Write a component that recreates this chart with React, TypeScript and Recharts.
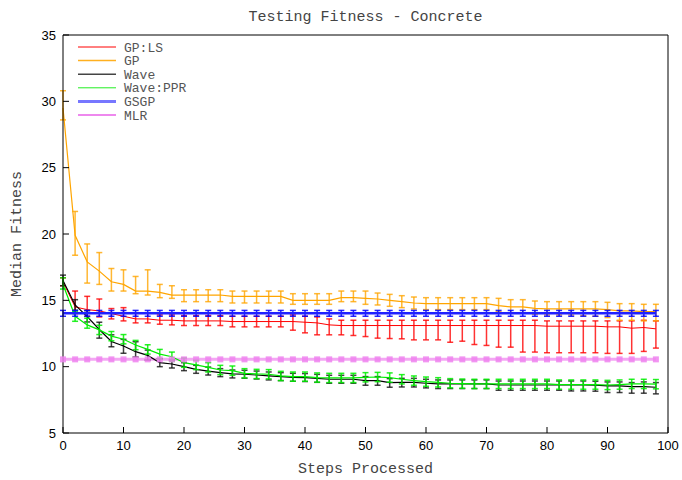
import React from 'react';
import { LineChart, Line, XAxis, YAxis, ErrorBar, Legend } from 'recharts';

const steps = [0,2,4,6,8,10,12,14,16,18,20,22,24,26,28,30,32,34,36,38,40,42,44,46,48,50,52,54,56,58,60,62,64,66,68,70,72,74,76,78,80,82,84,86,88,90,92,94,96,98];

const gpLs = [16.4,14.5,14.3,14.2,14.0,13.8,13.6,13.6,13.5,13.5,
  13.45,13.45,13.45,13.45,13.4,13.4,13.4,13.4,13.4,13.4,
  13.35,13.3,13.15,13.1,13.1,
  13.1,13.1,13.1,13.1,13.1,13.1,13.1,13.1,13.1,13.1,13.1,13.1,13.1,13.1,13.1,
  13.05,13.05,13.05,13.05,13.05,13.0,13.0,12.9,12.95,12.85];
const gpLsLo = [0.3,0.5,0.5,0.45,0.4,0.35,0.3,0.3,0.3,0.35,
  0.35,0.35,0.35,0.35,0.4,0.4,0.4,0.4,0.4,0.65,
  0.8,0.9,0.75,0.7,0.75,
  0.83,0.95,0.98,1.0,1.08,1.08,1.08,1.26,1.18,1.43,1.5,1.63,1.63,2.0,2.0,
  2.0,2.0,2.0,2.0,2.0,2.0,2.0,1.9,1.8,1.45];
const gpLsHi = [0.3,1.2,1.0,0.9,0.38,0.65,0.45,0.45,0.4,0.4,
  0.4,0.4,0.4,0.4,0.4,0.4,0.4,0.4,0.4,0.5,
  0.45,0.45,0.45,0.4,0.4,
  0.4,0.4,0.4,0.4,0.4,0.4,0.4,0.4,0.4,0.4,0.4,0.4,0.4,0.4,0.4,
  0.4,0.4,0.4,0.4,0.4,0.45,0.45,0.55,0.55,0.6];

const gp = [29.5,19.9,17.9,17.2,16.4,16.2,15.7,15.7,15.6,15.4,
  15.4,15.4,15.4,15.4,15.3,15.3,15.3,15.3,15.3,15.0,
  15.0,15.0,15.0,15.2,15.2,
  15.15,15.1,15.0,14.9,14.8,14.75,14.75,14.75,14.75,14.75,14.75,14.6,14.5,14.5,14.4,
  14.35,14.35,14.35,14.35,14.35,14.3,14.2,14.2,14.15,14.15];
const gpLo = [0.9,1.5,1.6,1.0,0.7,0.5,0.2,0.3,0.4,0.25,
  0.5,0.5,0.5,0.5,0.5,0.5,0.5,0.5,0.5,0.3,
  0.3,0.3,0.3,0.3,0.3,
  0.45,0.45,0.45,0.45,0.45,0.45,0.45,0.45,0.45,0.45,0.45,0.45,0.45,0.45,0.45,
  0.45,0.45,0.45,0.5,0.55,0.6,0.7,0.7,0.7,0.7];
const gpHi = [1.3,1.8,1.35,1.4,1.0,1.1,1.1,1.6,0.6,0.7,
  0.4,0.4,0.4,0.4,0.4,0.4,0.4,0.4,0.4,0.5,
  0.5,0.5,0.5,0.5,0.5,
  0.55,0.45,0.45,0.45,0.45,0.45,0.45,0.45,0.45,0.45,0.45,0.55,0.55,0.55,0.55,
  0.55,0.55,0.55,0.55,0.55,0.55,0.55,0.55,0.55,0.55];

const wave = [16.5,14.65,13.77,12.8,11.9,11.56,11.13,10.85,10.3,10.2,
  10.0,9.8,9.67,9.55,9.45,9.43,9.37,9.3,9.25,9.2,
  9.18,9.12,9.05,9.05,9.05,
  8.95,8.95,8.8,8.82,8.82,8.75,8.7,8.7,8.7,8.7,8.7,8.62,8.62,8.62,8.62,
  8.62,8.62,8.62,8.62,8.6,8.55,8.55,8.5,8.5,8.45];
const waveLo = [0.4,0.4,0.4,0.65,0.4,0.55,0.4,0.35,0.3,0.3,
  0.3,0.3,0.3,0.3,0.3,0.3,0.3,0.3,0.3,0.3,
  0.3,0.3,0.3,0.3,0.3,
  0.35,0.35,0.35,0.35,0.35,0.35,0.35,0.35,0.35,0.35,0.35,0.4,0.4,0.4,0.4,
  0.4,0.4,0.45,0.45,0.45,0.5,0.5,0.5,0.5,0.5];
const waveHi = [0.4,0.4,0.45,0.55,0.5,0.5,0.75,0.4,0.3,0.3,
  0.3,0.3,0.3,0.3,0.3,0.3,0.3,0.3,0.3,0.3,
  0.3,0.3,0.3,0.3,0.3,
  0.3,0.3,0.3,0.3,0.3,0.3,0.3,0.3,0.3,0.3,0.3,0.3,0.3,0.3,0.3,
  0.3,0.3,0.3,0.3,0.3,0.3,0.3,0.3,0.35,0.35];

const wavePpr = [16.2,13.8,13.15,12.77,12.3,12.07,11.63,11.3,10.95,10.75,
  10.3,10.13,9.95,9.75,9.7,9.5,9.45,9.43,9.3,9.25,
  9.25,9.18,9.15,9.15,9.15,
  9.2,9.22,9.18,9.05,8.95,8.87,8.82,8.75,8.72,8.7,8.7,8.7,8.7,8.7,8.7,
  8.7,8.65,8.65,8.65,8.65,8.62,8.65,8.7,8.7,8.68];
const wavePprLo = [0.35,0.38,0.25,0.35,0.35,0.35,0.35,0.35,0.35,0.35,
  0.35,0.35,0.35,0.35,0.35,0.35,0.35,0.35,0.35,0.35,
  0.35,0.35,0.35,0.35,0.35,
  0.35,0.35,0.35,0.35,0.35,0.35,0.35,0.35,0.35,0.35,0.35,0.35,0.35,0.35,0.35,
  0.35,0.35,0.35,0.35,0.35,0.35,0.35,0.35,0.35,0.35];
const wavePprHi = [0.5,0.38,0.5,0.35,0.35,0.35,0.35,0.35,0.35,0.35,
  0.35,0.35,0.35,0.35,0.35,0.35,0.35,0.35,0.35,0.35,
  0.35,0.35,0.35,0.35,0.35,
  0.35,0.35,0.35,0.35,0.35,0.35,0.35,0.35,0.35,0.35,0.35,0.35,0.35,0.35,0.35,
  0.35,0.35,0.35,0.35,0.35,0.35,0.35,0.35,0.35,0.35];

const gsgp = [14.02,14.02,14.02,14.02,14.02,14.02,14.02,14.02,14.02,14.02,
  14.02,14.02,14.02,14.02,14.02,14.02,14.02,14.02,14.02,14.02,
  14.02,14.02,14.02,14.02,14.02,14.02,14.02,14.02,14.02,14.02,
  14.02,14.02,14.02,14.02,14.02,14.02,14.02,14.02,14.02,14.02,
  14.02,14.02,14.02,14.02,14.02,14.02,14.02,14.02,14.02,14.02];
const gsgpErr = 0.22;

const mlr = [10.55,10.55,10.55,10.55,10.55,10.55,10.55,10.55,10.55,10.55,
  10.55,10.55,10.55,10.55,10.55,10.55,10.55,10.55,10.55,10.55,
  10.55,10.55,10.55,10.55,10.55,10.55,10.55,10.55,10.55,10.55,
  10.55,10.55,10.55,10.55,10.55,10.55,10.55,10.55,10.55,10.55,
  10.55,10.55,10.55,10.55,10.55,10.55,10.55,10.55,10.55,10.55];

const xTicks = [0,10,20,30,40,50,60,70,80,90,100];
const yTicks = [5,10,15,20,25,30,35];

const seriesNames = ['GP:LS', 'GP', 'Wave', 'Wave:PPR', 'GSGP', 'MLR'];
const legendColors = ['#ff0000', '#ffb020', '#444444', '#22ee22', '#7777ff', '#ee88ee'];
const legendWidths = [1, 1.5, 1.5, 1, 3, 2];

const data = steps.map((s, i) => ({
  step: s,
  gpls: gpLs[i], gplsErr: [gpLsLo[i], gpLsHi[i]],
  gp: gp[i], gpErr: [gpLo[i], gpHi[i]],
  wave: wave[i], waveErr: [waveLo[i], waveHi[i]],
  ppr: wavePpr[i], pprErr: [wavePprLo[i], wavePprHi[i]],
  gsgp: gsgp[i], gsgpErr: [gsgpErr, gsgpErr],
  mlr: mlr[i],
}));

const mono = '"Liberation Mono", "DejaVu Sans Mono", monospace';
const sans = '"Liberation Sans", Arial, sans-serif';

const KeyBox = () => (
  <svg width={130} height={84} style={{ display: 'block' }}>
    {seriesNames.map((n, i) => {
      const y = 7 + i * 13.6;
      return (
        <g key={n}>
          <line x1={0} x2={38} y1={y} y2={y} stroke={legendColors[i]} strokeWidth={legendWidths[i]} />
          <text x={46} y={y + 4.5} fontFamily={mono} fontSize={13} fill="#555">{n}</text>
        </g>
      );
    })}
  </svg>
);

const squareDot = (props: any) => {
  const { cx, cy, index } = props;
  if (cx == null || cy == null) return <g key={`m${index}`} />;
  return <rect key={`m${index}`} x={cx - 3} y={cy - 3} width={6} height={6} fill="#ee82ee" fillOpacity={0.85} />;
};

export default function App() {
  return (
    <div style={{ position: 'absolute', left: 0, top: 0, width: 682, height: 480, background: '#fff' }}>
      <LineChart width={682} height={480} data={data} margin={{ top: 34, right: 13, left: 0, bottom: 0 }}>
        <XAxis
          dataKey="step" type="number" domain={[0, 100]} ticks={xTicks} height={47}
          tickSize={-6} tickMargin={14} stroke="#000" tickLine={{ stroke: '#000' }}
          tick={{ fill: '#000', fontSize: 13, fontFamily: sans }}
          label={{ value: 'Steps Processed', position: 'insideBottom', offset: 7, fill: '#444', fontSize: 15, fontFamily: mono }}
        />
        <XAxis
          xAxisId="t" orientation="top" dataKey="step" type="number" domain={[0, 100]} ticks={xTicks} height={1}
          tickSize={-6} tick={false} stroke="#000"
          label={{ value: 'Testing Fitness - Concrete', position: 'top', offset: 13, fill: '#444', fontSize: 15, fontFamily: mono }}
        />
        <YAxis
          type="number" domain={[5, 35]} ticks={yTicks} width={63}
          tickSize={-6} tickMargin={13} stroke="#000" tickLine={{ stroke: '#000' }}
          tick={{ fill: '#000', fontSize: 13, fontFamily: sans }}
          label={{ value: 'Median Fitness', angle: -90, position: 'center', dx: -16, fill: '#444', fontSize: 15, fontFamily: mono }}
        />
        <YAxis
          yAxisId="r" orientation="right" type="number" domain={[5, 35]} ticks={yTicks} width={1}
          tickSize={-6} tick={false} stroke="#000"
        />
        <Legend
          content={() => <KeyBox />}
          layout="horizontal" verticalAlign="middle" align="center"
          wrapperStyle={{ left: 78, top: 40, width: 130, height: 84 }}
        />
        <Line dataKey="mlr" type="linear" stroke="#ee82ee" strokeWidth={3} strokeOpacity={0.7} dot={squareDot} isAnimationActive={false} />
        <Line dataKey="gpls" type="linear" stroke="#ff0000" strokeWidth={1} dot={false} isAnimationActive={false}>
          <ErrorBar dataKey="gplsErr" direction="y" width={3} stroke="#ff0000" strokeWidth={1.5} strokeOpacity={0.8} />
        </Line>
        <Line dataKey="gp" type="linear" stroke="#ffa500" strokeWidth={1.2} dot={false} isAnimationActive={false}>
          <ErrorBar dataKey="gpErr" direction="y" width={3} stroke="#ffa500" strokeWidth={1.5} strokeOpacity={0.8} />
        </Line>
        <Line dataKey="wave" type="linear" stroke="#000000" strokeWidth={1.2} dot={false} isAnimationActive={false}>
          <ErrorBar dataKey="waveErr" direction="y" width={3} stroke="#111111" strokeWidth={1.5} strokeOpacity={0.8} />
        </Line>
        <Line dataKey="ppr" type="linear" stroke="#00ee00" strokeWidth={1.2} dot={false} isAnimationActive={false}>
          <ErrorBar dataKey="pprErr" direction="y" width={3} stroke="#00ee00" strokeWidth={1.5} strokeOpacity={0.85} />
        </Line>
        <Line dataKey="gsgp" type="linear" stroke="#2020ff" strokeWidth={2.5} dot={false} isAnimationActive={false}>
          <ErrorBar dataKey="gsgpErr" direction="y" width={3} stroke="#0000ff" strokeWidth={1.5} strokeOpacity={0.85} />
        </Line>
      </LineChart>
    </div>
  );
}
